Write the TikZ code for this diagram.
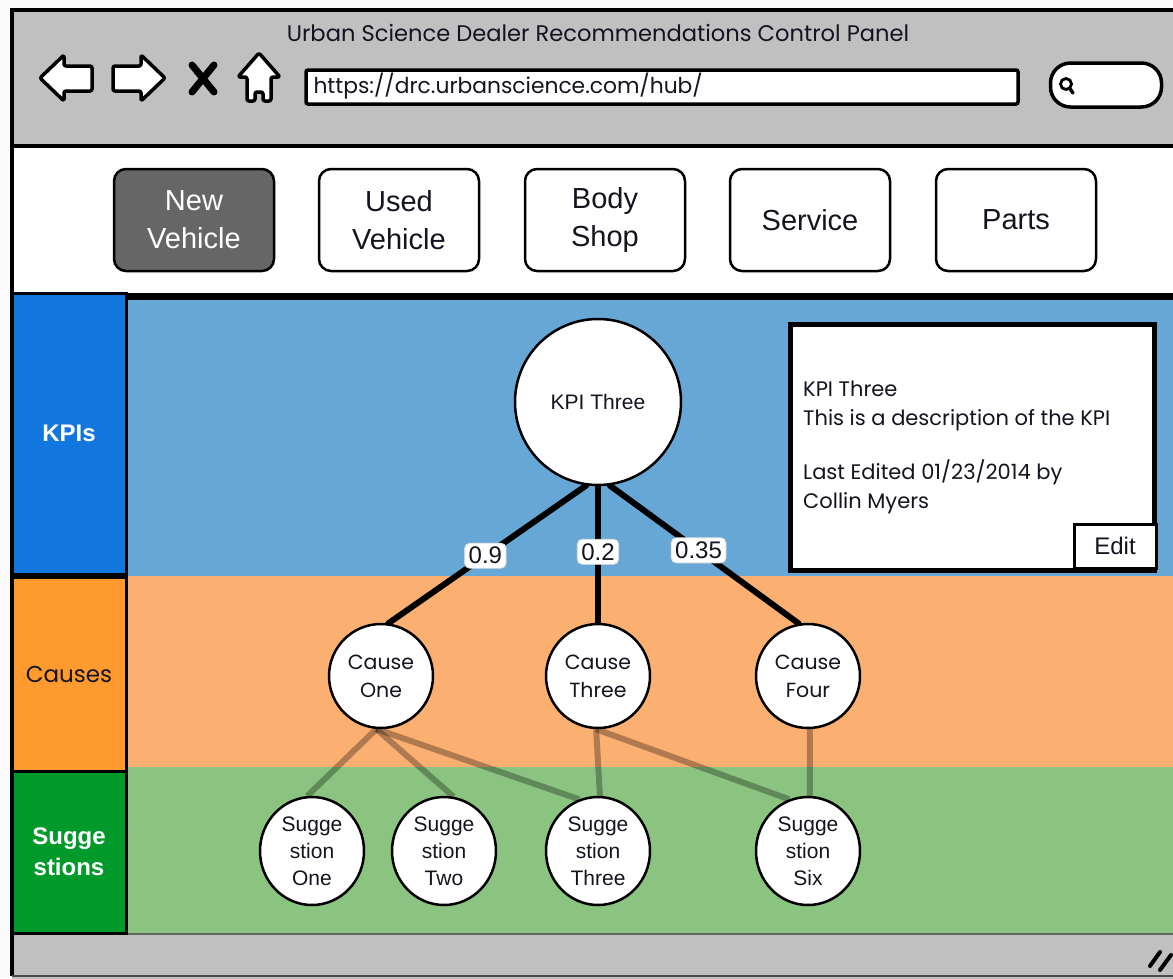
\documentclass[tikz,border=0pt]{standalone}
\usepackage{fontspec}
\setmainfont{Liberation Sans}
\newfontfamily\sketchfont{Poppins}
\usetikzlibrary{shapes.geometric,calc}

\definecolor{paper}{HTML}{FAFAFA}
\definecolor{chrome}{HTML}{C0C0C0}
\definecolor{tabdark}{HTML}{666666}
\definecolor{kpiband}{HTML}{67A7D6}
\definecolor{kpilane}{HTML}{1276DF}
\definecolor{causeband}{HTML}{FBB072}
\definecolor{causelane}{HTML}{FF9A2E}
\definecolor{suggband}{HTML}{8BC480}
\definecolor{sugglane}{HTML}{009A2A}
\definecolor{ink}{HTML}{141420}

\pgfdeclarelayer{bands}
\pgfdeclarelayer{links}
\pgfsetlayers{bands,links,main}

\tikzset{
  tabbtn/.style={draw, line width=2.5pt, rounded corners=12pt, fill=white,
    minimum width=160pt, minimum height=102pt, align=center,
    font=\fontsize{29}{38}\selectfont, text=ink},
  lanebox/.style={draw, line width=3pt, minimum width=114pt, align=center,
    inner sep=0pt},
  kpinode/.style={circle, draw, line width=2.5pt, fill=white, inner sep=0pt,
    minimum size=166pt, font=\fontsize{21}{26}\selectfont, text=ink},
  causenode/.style={circle, draw, line width=2.5pt, fill=white, inner sep=0pt,
    minimum size=104pt, align=center, font=\sketchfont\fontsize{20.5}{28}\selectfont, text=ink},
  suggnode/.style={ellipse, draw, line width=2.5pt, fill=white, inner sep=0pt,
    minimum width=104pt, minimum height=108pt, align=center,
    font=\fontsize{21}{27}\selectfont, text=ink},
  weightlink/.style={line width=6pt, line cap=round},
  softlink/.style={line width=6pt, draw=black, opacity=0.3},
  weightlabel/.style={fill=white, draw=black!12, line width=0.8pt, rounded corners=5pt,
    inner sep=4pt, font=\fontsize{24}{26}\selectfont, text=ink, opacity=1},
  navicon/.style={draw, fill=white, line width=3.5pt, line join=round, rounded corners=2pt},
}

\begin{document}
\begin{tikzpicture}[x=1pt,y=-1pt]
\useasboundingbox (0,0) rectangle (1173,978);

\begin{pgfonlayer}{bands}
  % page behind the window
  \fill[paper] (0,0) rectangle (1173,978);
  % browser chrome, tab strip and status bar
  \fill[chrome] (12,10) rectangle (1190,146);
  \fill[white] (12,146) rectangle (1190,296);
  \fill[chrome] (12,934) rectangle (1190,990);
  % swim-lane bands
  \fill[kpiband] (126,298) rectangle (1190,576);
  \fill[causeband] (126,576) rectangle (1190,767);
  \fill[suggband] (126,767) rectangle (1190,934);
  % window frame
  \draw[line width=4pt] (12,976) -- (12,10) -- (1190,10);
  \draw[line width=4pt] (12,146) -- (1190,146);
  \draw[line width=7pt] (12,296) -- (1190,296);
  \draw[line width=2pt, black!60] (126,934) -- (1190,934);
  \draw[line width=2pt, black!70] (12,976) -- (1190,976);
\end{pgfonlayer}

% title and address bar
\node[font=\sketchfont\fontsize{22.6}{26}\selectfont, text=ink] (title) at (598,33)
  {Urban Science Dealer Recommendations Control Panel};
\node[draw, line width=3.5pt, fill=white, rounded corners=2pt, minimum width=712pt,
  minimum height=34pt, inner sep=0pt] (url) at (662,87) {};
\node[anchor=west, font=\sketchfont\fontsize{21.8}{24}\selectfont, text=ink] (urltext) at (310,86)
  {https://drc.urbanscience.com/hub/};
\node[draw, line width=3.5pt, fill=white, rounded corners=20pt, minimum width=111pt,
  minimum height=44pt, inner sep=0pt] (search) at (1106,85) {};
\coordinate (lens) at (1066,84);
\draw[line width=2.8pt] (lens) circle (5.5pt);
\draw[line width=3.5pt, line cap=round] ($(lens)+(4,5)$) -- ($(lens)+(7,9)$);

% navigation buttons
\draw[navicon] (40,78) -- (64,55) -- (64,66) -- (92,66) -- (92,91) -- (64,91) -- (64,101) -- cycle;
\draw[navicon] (165,78) -- (141,55) -- (141,66) -- (113,66) -- (113,91) -- (141,91) -- (141,101) -- cycle;
\draw[line width=7pt, line cap=round] (192,65) -- (214,92) (214,65) -- (192,92);
\draw[navicon] (259,53) -- (280,77) -- (271,77) -- (271,101) -- (263,101) -- (263,92)
  -- (255,92) -- (255,101) -- (247,101) -- (247,77) -- (238,77) -- cycle;

% section tabs
\node[tabbtn, fill=tabdark, text=white] (tnew) at (194,220) {New\\Vehicle};
\node[tabbtn] (tused) at (399,220) {Used\\Vehicle};
\node[tabbtn] (tbody) at (605,220) {Body\\Shop};
\node[tabbtn] (tservice) at (810,220) {Service};
\node[tabbtn] (tparts) at (1016,220) {Parts};

% lane headers
\node[lanebox, fill=kpilane, minimum height=281pt, text=white,
  font=\bfseries\fontsize{24}{28}\selectfont] (lkpi) at (69,433.5) {KPIs};
\node[lanebox, fill=causelane, minimum height=194pt, text=ink,
  font=\sketchfont\fontsize{23}{28}\selectfont] (lcause) at (69,674) {Causes};
\node[lanebox, fill=sugglane, minimum height=162pt, text=white,
  font=\bfseries\fontsize{24}{31}\selectfont] (lsugg) at (69,852) {Sugge\\stions};

% KPI, causes and suggestions
\node[kpinode] (kpi) at (598,402) {KPI Three};
\node[causenode] (c1) at (381,676) {Cause\\One};
\node[causenode] (c3) at (598,676) {Cause\\Three};
\node[causenode] (c4) at (808,676) {Cause\\Four};
\node[suggnode] (s1) at (312,851) {Sugge\\stion\\One};
\node[suggnode] (s2) at (444,851) {Sugge\\stion\\Two};
\node[suggnode] (s3) at (598,851) {Sugge\\stion\\Three};
\node[suggnode] (s6) at (808,851) {Sugge\\stion\\Six};

\begin{pgfonlayer}{links}
  \draw[weightlink] (kpi.262) -- node[weightlabel, pos=0.51] (w1) {0.9} (c1.82);
  \draw[weightlink] (kpi.270) -- node[weightlabel, pos=0.48] (w3) {0.2} (c3.90);
  \draw[weightlink] (kpi.278) -- node[weightlabel, pos=0.47] (w4) {0.35} (c4.100);
  \draw[softlink] (c1.265) -- (s1.95);
  \draw[softlink] (c1.265) -- (s2.80);
  \draw[softlink] (c1.265) -- (s3.110);
  \draw[softlink] (c3.268) -- (s3.88);
  \draw[softlink] (c3.268) -- (s6.110);
  \draw[softlink] (c4.272) -- (s6.88);
\end{pgfonlayer}

% KPI detail panel
\node[draw, line width=5pt, fill=white, minimum width=364pt, minimum height=246pt,
  inner sep=0pt] (info) at (972,447) {};
\node[anchor=north west, align=left, inner sep=0pt, text=ink,
  font=\sketchfont\fontsize{21}{28.5}\selectfont] (infotext) at (803,381)
  {KPI Three\\This is a description of the KPI\\[26pt]Last Edited 01/23/2014 by\\Collin Myers};
\node[draw, line width=3pt, fill=white, minimum width=82pt, minimum height=44pt,
  inner sep=0pt, font=\fontsize{24}{28}\selectfont, text=ink] (edit) at (1115,546) {Edit};

% window resize grip
\draw[line width=4pt, line cap=round] (1150,966) -- (1160,952) (1160,970) -- (1171,955);
\end{tikzpicture}
\end{document}
